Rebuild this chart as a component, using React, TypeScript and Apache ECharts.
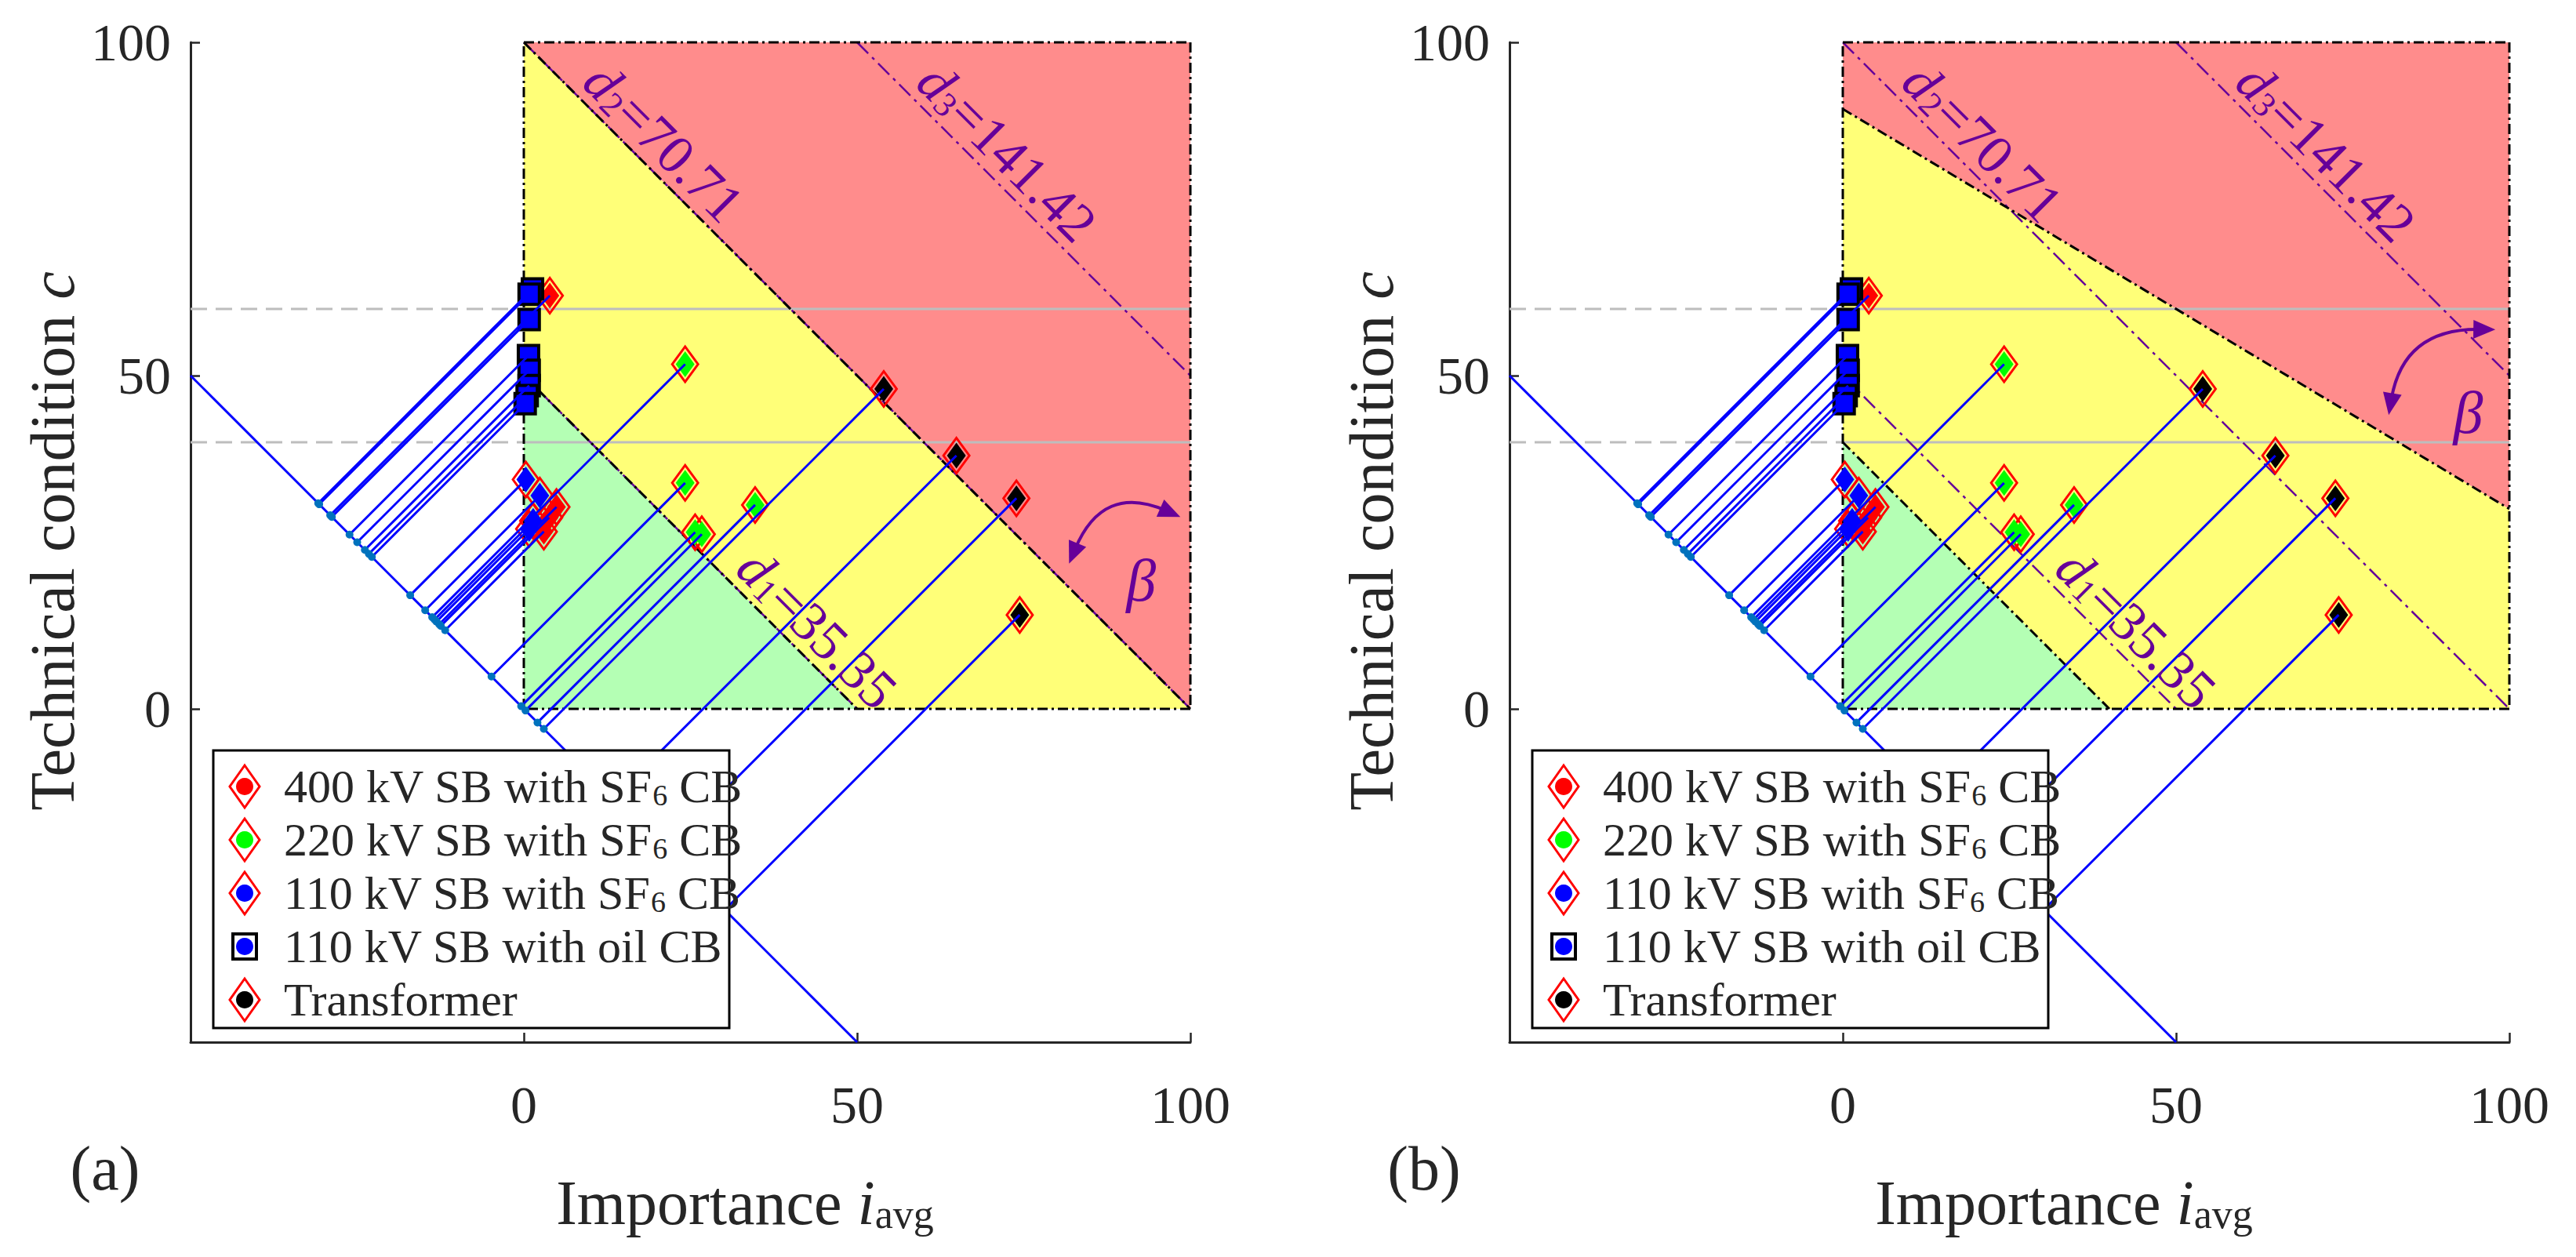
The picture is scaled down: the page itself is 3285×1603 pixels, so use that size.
import React, { useEffect, useRef } from "react";
import * as echarts from "echarts";

// ---------------- data ----------------
const AXIS_MIN = -50;
const AXIS_MAX = 100;
const AXIS_INTERVAL = 50;
const HIDDEN_TICK = -50;

const sb400Points = [[3.9, 62.0], [4.9, 30.3], [3.8, 28.7], [3.0, 26.6]];
const sb220Points = [[24.2, 51.7], [24.2, 33.9], [34.7, 30.6], [26.7, 26.2], [25.7, 26.5]];
const sb110Sf6Points = [[0.3, 34.4], [2.4, 32.0], [1.4, 28.2], [0.8, 27.0]];
const sb110OilPoints = [[1.3, 63.0], [0.8, 62.2], [0.8, 58.4], [0.7, 53.0], [0.8, 50.8], [0.8, 48.5], [0.5, 47.0], [0.2, 45.8]];
const transformerPoints = [[54.0, 48.0], [64.9, 38.0], [73.9, 31.6], [74.4, 14.1]];

const regionGreenA = [[0, 0], [0, 50], [50, 0]];
const regionYellowA = [[0, 50], [0, 100], [100, 0], [50, 0]];
const regionRedA = [[0, 100], [100, 100], [100, 0]];
const regionGreenB = [[0, 0], [0, 40], [40, 0]];
const regionYellowB = [[0, 40], [0, 90], [100, 30], [100, 0], [40, 0]];
const regionRedB = [[0, 90], [0, 100], [100, 100], [100, 30]];

const frameEdges = [[[0, 0], [0, 100]], [[0, 100], [100, 100]], [[100, 100], [100, 0]], [[100, 0], [0, 0]]];
const boundaryA = [[[0, 50], [50, 0]], [[0, 100], [100, 0]]];
const boundaryB = [[[0, 40], [40, 0]], [[0, 90], [100, 30]]];
const distanceLines = [[[0, 50], [50, 0]], [[0, 100], [100, 0]], [[50, 100], [100, 50]]];
const distanceLabels = [
  { sub: "1", value: "35.35", at: [44, 12] },
  { sub: "2", value: "70.71", at: [21, 85] },
  { sub: "3", value: "141.42", at: [72.5, 83.5] },
];
const projectionAxis = [[[-50, 50], [50, -50]]];
const guideLevels = [60, 40];
const guideDashed = guideLevels.map((v) => [[-50, v], [0, v]]);
const guideSolid = guideLevels.map((v) => [[0, v], [100, v]]);
const betaArcA = { start: [81.8, 21.8], mid: [88.5, 29.6], end: [98.5, 28.8], label: [92.6, 19.3] };
const betaArcB = { start: [81.9, 44.1], mid: [87.0, 53.8], end: [97.9, 56.9], label: [93.8, 44.5] };
const panelLetters = ["(a)", "(b)"];
const legendEntries = [
  { pre: "400 kV SB with SF", sub: "6", post: " CB", dot: "#FF0000", frame: "diamond" },
  { pre: "220 kV SB with SF", sub: "6", post: " CB", dot: "#00FF00", frame: "diamond" },
  { pre: "110 kV SB with SF", sub: "6", post: " CB", dot: "#0000FF", frame: "diamond" },
  { pre: "110 kV SB with oil CB", sub: "", post: "", dot: "#0000FF", frame: "square" },
  { pre: "Transformer", sub: "", post: "", dot: "#000000", frame: "diamond" },
];

// ---------------- style ----------------
const FONT = "Liberation Serif";
const PURPLE = "#660099";
const AXIS_COLOR = "#262626";
const PANEL_SHIFT = 1682;
const GRID_LEFT = 243;
const GRID_TOP = 54;
const GRID_SIZE = 1275;

const allPoints = [...sb400Points, ...sb220Points, ...sb110Sf6Points, ...sb110OilPoints, ...transformerPoints];
const project = (p: number[]) => [(p[0] - p[1]) / 2, (p[1] - p[0]) / 2];
const connectors = allPoints.map((p) => [p, project(p)]);
const projections = allPoints.map(project);

function segSeries(i: number, segs: any[], color: string, width: number, dash: any, z: number) {
  return {
    type: "custom",
    xAxisIndex: i,
    yAxisIndex: i,
    z,
    silent: true,
    clip: false,
    data: segs.map((_: any, k: number) => [k, 0]),
    renderItem: (params: any, api: any) => {
      const s = segs[params.dataIndex];
      const a = api.coord(s[0]);
      const b = api.coord(s[1]);
      return {
        type: "line",
        shape: { x1: a[0], y1: a[1], x2: b[0], y2: b[1] },
        style: { stroke: color, lineWidth: width, lineDash: dash, fill: null },
      };
    },
  };
}

function regionSeries(i: number, polys: any[]) {
  return {
    type: "custom",
    xAxisIndex: i,
    yAxisIndex: i,
    z: 1,
    silent: true,
    data: polys.map((_: any, k: number) => [k, 0]),
    renderItem: (params: any, api: any) => {
      const p = polys[params.dataIndex];
      return {
        type: "polygon",
        shape: { points: p.verts.map((v: number[]) => api.coord(v)) },
        style: { fill: p.color },
      };
    },
  };
}

const dRich = {
  i: { fontStyle: "italic", fontSize: 70, fontFamily: FONT, fill: PURPLE, lineHeight: 70 },
  s: { fontSize: 44, fontFamily: FONT, fill: PURPLE, lineHeight: 38, verticalAlign: "bottom" },
  n: { fontSize: 70, fontFamily: FONT, fill: PURPLE, lineHeight: 70 },
};

function labelSeries(i: number) {
  return {
    type: "custom",
    xAxisIndex: i,
    yAxisIndex: i,
    z: 10,
    silent: true,
    data: distanceLabels.map((_: any, k: number) => [k, 0]),
    renderItem: (params: any, api: any) => {
      const d = distanceLabels[params.dataIndex];
      const p = api.coord(d.at);
      return {
        type: "text",
        x: p[0],
        y: p[1],
        rotation: -Math.PI / 4,
        style: {
          text: `{i|d}{s|${d.sub}}{n|=${d.value}}`,
          rich: dRich,
          align: "center",
          verticalAlign: "middle",
          fill: PURPLE,
          fontSize: 70,
          fontFamily: FONT,
        },
      };
    },
  };
}

function arcSeries(i: number, arc: any) {
  return {
    type: "custom",
    xAxisIndex: i,
    yAxisIndex: i,
    z: 10,
    silent: true,
    data: [[0, 0]],
    renderItem: (params: any, api: any) => {
      const s = api.coord(arc.start);
      const m = api.coord(arc.mid);
      const e = api.coord(arc.end);
      const l = api.coord(arc.label);
      const c = [2 * m[0] - (s[0] + e[0]) / 2, 2 * m[1] - (s[1] + e[1]) / 2];
      const head = (tip: number[], from: number[]) => {
        const dx = tip[0] - from[0];
        const dy = tip[1] - from[1];
        const L = Math.hypot(dx, dy);
        const ux = dx / L;
        const uy = dy / L;
        const len = 28;
        const w = 12;
        const bx = tip[0] - ux * len;
        const by = tip[1] - uy * len;
        return [[tip[0], tip[1]], [bx - uy * w, by + ux * w], [bx + uy * w, by - ux * w]];
      };
      const trim = (tip: number[], from: number[], len: number) => {
        const dx = from[0] - tip[0];
        const dy = from[1] - tip[1];
        const L = Math.hypot(dx, dy);
        return [tip[0] + (dx / L) * len, tip[1] + (dy / L) * len];
      };
      const s2 = trim(s, c, 20);
      const e2 = trim(e, c, 20);
      return {
        type: "group",
        children: [
          {
            type: "bezierCurve",
            shape: { x1: s2[0], y1: s2[1], x2: e2[0], y2: e2[1], cpx1: c[0], cpy1: c[1] },
            style: { stroke: PURPLE, lineWidth: 4, fill: "none" },
          },
          { type: "polygon", shape: { points: head(s, c) }, style: { fill: PURPLE } },
          { type: "polygon", shape: { points: head(e, c) }, style: { fill: PURPLE } },
          {
            type: "text",
            x: l[0],
            y: l[1],
            style: {
              text: "β",
              fontSize: 76,
              fontStyle: "italic",
              fontFamily: FONT,
              fill: PURPLE,
              align: "center",
              verticalAlign: "middle",
            },
          },
        ],
      };
    },
  };
}

function outlineSeries(i: number, pts: any[]) {
  return {
    type: "scatter",
    xAxisIndex: i,
    yAxisIndex: i,
    z: 6,
    silent: true,
    symbol: "diamond",
    symbolSize: [33, 45],
    data: pts,
    itemStyle: { color: "rgba(0,0,0,0)", borderColor: "#FF0000", borderWidth: 3, opacity: 1 },
  };
}
function fillSeries(i: number, pts: any[], color: string) {
  return {
    type: "scatter",
    xAxisIndex: i,
    yAxisIndex: i,
    z: 7,
    silent: true,
    symbol: "diamond",
    symbolSize: [24, 33],
    data: pts,
    itemStyle: { color, opacity: 1 },
  };
}

function buildPanel(i: number) {
  const polys =
    i === 0
      ? [
          { verts: regionGreenA, color: "#B4FFB4" },
          { verts: regionYellowA, color: "#FFFF78" },
          { verts: regionRedA, color: "#FF8C8C" },
        ]
      : [
          { verts: regionGreenB, color: "#B4FFB4" },
          { verts: regionYellowB, color: "#FFFF78" },
          { verts: regionRedB, color: "#FF8C8C" },
        ];
  const bounds = i === 0 ? boundaryA : boundaryB;
  return [
    regionSeries(i, polys),
    segSeries(i, guideDashed, "#BDBDBD", 3, [21, 11], 2),
    segSeries(i, guideSolid, "#BDBDBD", 3, null, 2),
    segSeries(i, distanceLines, PURPLE, 2.5, [20, 7, 4, 7], 3),
    segSeries(i, [...frameEdges, ...bounds], "#000000", 3, [13, 5, 3, 5], 4),
    segSeries(i, projectionAxis, "#0000FF", 3, null, 5),
    outlineSeries(i, [...sb400Points, ...sb220Points, ...sb110Sf6Points, ...transformerPoints]),
    fillSeries(i, sb400Points, "#FF0000"),
    fillSeries(i, sb220Points, "#00FF00"),
    fillSeries(i, sb110Sf6Points, "#0000FF"),
    fillSeries(i, transformerPoints, "#000000"),
    {
      type: "scatter",
      xAxisIndex: i,
      yAxisIndex: i,
      z: 7,
      silent: true,
      symbol: "rect",
      symbolSize: 26,
      data: sb110OilPoints,
      itemStyle: { color: "#0000FF", borderColor: "#000000", borderWidth: 4, opacity: 1 },
    },
    segSeries(i, connectors, "#0000FF", 3, null, 8),
    {
      type: "scatter",
      xAxisIndex: i,
      yAxisIndex: i,
      z: 9,
      silent: true,
      symbol: "circle",
      symbolSize: 10,
      data: projections,
      itemStyle: { color: "#0072BD", opacity: 1 },
    },
    labelSeries(i),
    arcSeries(i, i === 0 ? betaArcA : betaArcB),
  ];
}

function buildGraphics() {
  const els: any[] = [];
  [0, 1].forEach((i) => {
    const dx = i * PANEL_SHIFT;
    els.push({
      type: "text",
      x: 134 + dx,
      y: 1490,
      z: 100,
      style: {
        text: panelLetters[i],
        fontSize: 80,
        fontFamily: FONT,
        fill: AXIS_COLOR,
        align: "center",
        verticalAlign: "middle",
        textAlign: "center",
        textVerticalAlign: "middle",
      },
    });
    els.push({
      type: "text",
      x: 950 + dx,
      y: 1534,
      z: 100,
      style: {
        text: "{n|Importance }{i|i}{s|avg}",
        rich: {
          n: { fontSize: 80, fontFamily: FONT, fill: AXIS_COLOR, lineHeight: 80 },
          i: { fontSize: 80, fontFamily: FONT, fill: AXIS_COLOR, fontStyle: "italic", lineHeight: 80 },
          s: { fontSize: 52, fontFamily: FONT, fill: AXIS_COLOR, lineHeight: 62, verticalAlign: "bottom" },
        },
        align: "center",
        verticalAlign: "middle",
        textAlign: "center",
        textVerticalAlign: "middle",
      },
    });
    els.push({
      type: "text",
      x: 67 + dx,
      y: 690,
      rotation: Math.PI / 2,
      z: 100,
      style: {
        text: "{n|Technical condition }{i|c}",
        rich: {
          n: { fontSize: 80, fontFamily: FONT, fill: AXIS_COLOR, lineHeight: 80 },
          i: { fontSize: 80, fontFamily: FONT, fill: AXIS_COLOR, fontStyle: "italic", lineHeight: 80 },
        },
        align: "center",
        verticalAlign: "middle",
        textAlign: "center",
        textVerticalAlign: "middle",
      },
    });
    // legend
    els.push({
      type: "rect",
      z: 100,
      shape: { x: 272 + dx, y: 957, width: 658, height: 354 },
      style: { fill: "#FFFFFF", stroke: "#000000", lineWidth: 3 },
    });
    legendEntries.forEach((en, k) => {
      const cy = 1003 + k * 68;
      const cx = 312 + dx;
      if (en.frame === "diamond") {
        els.push({
          type: "polygon",
          z: 101,
          shape: { points: [[cx, cy - 27], [cx + 19, cy], [cx, cy + 27], [cx - 19, cy]] },
          style: { fill: "#FFFFFF", stroke: "#FF0000", lineWidth: 3 },
        });
      } else {
        els.push({
          type: "rect",
          z: 101,
          shape: { x: cx - 15, y: cy - 16, width: 30, height: 32 },
          style: { fill: "#FFFFFF", stroke: "#000000", lineWidth: 4 },
        });
      }
      els.push({
        type: "circle",
        z: 102,
        shape: { cx, cy, r: 11 },
        style: { fill: en.dot },
      });
      const txt = en.sub ? `{n|${en.pre}}{s|${en.sub}}{n|${en.post}}` : `{n|${en.pre}}`;
      els.push({
        type: "text",
        x: 362 + dx,
        y: cy,
        z: 102,
        style: {
          text: txt,
          rich: {
            n: { fontSize: 60, fontFamily: FONT, fill: AXIS_COLOR, lineHeight: 60 },
            s: { fontSize: 38, fontFamily: FONT, fill: AXIS_COLOR, lineHeight: 46, verticalAlign: "bottom" },
          },
          align: "left",
          verticalAlign: "middle",
          textAlign: "left",
          textVerticalAlign: "middle",
        },
      });
    });
  });
  return els;
}

function axisCommon(i: number, isX: boolean) {
  return {
    type: "value",
    gridIndex: i,
    min: AXIS_MIN,
    max: AXIS_MAX,
    interval: AXIS_INTERVAL,
    axisLine: { show: true, onZero: false, lineStyle: { color: AXIS_COLOR, width: 3 } },
    axisTick: { show: true, inside: true, length: 12, lineStyle: { color: AXIS_COLOR, width: 2.5 } },
    axisLabel: {
      show: true,
      margin: isX ? 46 : 25,
      fontSize: 68,
      fontFamily: FONT,
      color: AXIS_COLOR,
      formatter: (v: number) => (v === HIDDEN_TICK ? "" : String(v)),
    },
    splitLine: { show: false },
  };
}

export default function App() {
  const ref = useRef<HTMLDivElement>(null);
  useEffect(() => {
    if (!ref.current) return;
    const chart = echarts.init(ref.current, undefined, { renderer: "svg" });
    const option = {
      animation: false,
      backgroundColor: "#FFFFFF",
      textStyle: { fontFamily: FONT },
      grid: [0, 1].map((i) => ({
        left: GRID_LEFT + i * PANEL_SHIFT,
        top: GRID_TOP,
        width: GRID_SIZE,
        height: GRID_SIZE,
        containLabel: false,
      })),
      xAxis: [0, 1].map((i) => axisCommon(i, true)),
      yAxis: [0, 1].map((i) => axisCommon(i, false)),
      series: [...buildPanel(0), ...buildPanel(1)],
      graphic: { elements: buildGraphics() },
    };
    chart.setOption(option as any);
    return () => chart.dispose();
  }, []);
  return (
    <div
      ref={ref}
      style={{ position: "absolute", left: 0, top: 0, width: 3285, height: 1603, background: "#fff" }}
    />
  );
}
